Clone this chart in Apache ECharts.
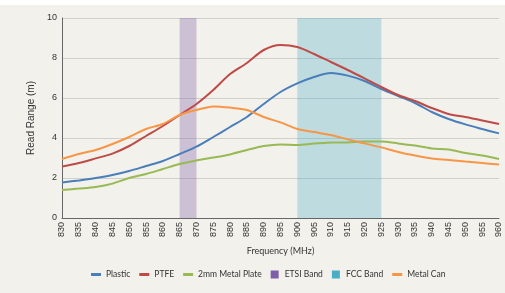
<!DOCTYPE html>
<html>
<head>
<meta charset="utf-8">
<script src="https://cdn.jsdelivr.net/npm/echarts@6/dist/echarts.min.js"></script>
<style>
  html, body { margin: 0; padding: 0; background: #fff; }
  #chart { width: 505px; height: 293px; }
</style>
</head>
<body>
<div id="chart"></div>
<script>
// frequencies (MHz)
var freqs = ['830','835','840','845','850','855','860','865','870','875','880','885','890',
  '895','900','905','910','915','920','925','930','935','940','945','950','955','960'];

// read range (m)
var plastic = [1.77,1.88,2.0,2.15,2.35,2.6,2.85,3.2,3.57,4.05,4.55,5.05,5.7,6.3,6.73,7.05,7.25,7.12,6.85,6.45,6.1,5.75,5.3,4.95,4.68,4.45,4.23];
var ptfe = [2.57,2.75,2.98,3.22,3.6,4.1,4.6,5.15,5.7,6.4,7.2,7.75,8.4,8.65,8.55,8.2,7.8,7.4,6.98,6.55,6.15,5.85,5.5,5.2,5.05,4.88,4.7];
var metalPlate = [1.4,1.47,1.55,1.72,2.0,2.2,2.45,2.7,2.88,3.02,3.18,3.4,3.6,3.68,3.65,3.72,3.77,3.78,3.82,3.82,3.73,3.62,3.48,3.42,3.25,3.12,2.95];
var metalCan = [2.95,3.2,3.4,3.7,4.05,4.45,4.7,5.15,5.4,5.58,5.52,5.4,5.05,4.78,4.45,4.3,4.15,3.93,3.73,3.53,3.3,3.12,2.97,2.9,2.82,2.75,2.67];

var etsiBand = ['865', '870'];
var fccBand = ['900', '925'];

var lineIcon = 'path://M0,0h10v3h-10z';
var boxIcon = 'path://M0,0h8v8h-8z';
var font = 'Lato';

var chart = echarts.init(document.getElementById('chart'));

function lineSeries(name, data, color) {
  return {
    name: name, type: 'line', data: data, smooth: 0.3,
    symbol: 'none', z: 3,
    lineStyle: { width: 2, color: color },
    itemStyle: { color: color }
  };
}

function bandSeries(name, range, color, fill) {
  return {
    name: name, type: 'line', data: [], symbol: 'none', z: 1,
    itemStyle: { color: color },
    lineStyle: { width: 0 },
    markArea: {
      silent: true,
      itemStyle: { color: fill },
      data: [[{ xAxis: range[0] }, { xAxis: range[1] }]]
    }
  };
}

chart.setOption({
  backgroundColor: '#f2f1eb',
  animation: false,
  graphic: [{ type: 'rect', shape: { x: 0, y: 0, width: 505, height: 5 }, style: { fill: '#fff' } }],
  grid: { left: 62, right: 6, top: 18, bottom: 75 },
  legend: {
    left: 86, top: 265, width: 419,
    itemWidth: 10, itemHeight: 8, itemGap: 9,
    textStyle: { fontFamily: font, fontSize: 8.5, color: '#333' },
    data: [
      { name: 'Plastic', icon: lineIcon },
      { name: 'PTFE', icon: lineIcon },
      { name: '2mm Metal Plate', icon: lineIcon },
      { name: 'ETSI Band', icon: boxIcon },
      { name: 'FCC Band', icon: boxIcon },
      { name: 'Metal Can', icon: lineIcon }
    ]
  },
  xAxis: {
    type: 'category', data: freqs, boundaryGap: false,
    name: 'Frequency (MHz)', nameLocation: 'middle', nameGap: 29,
    nameTextStyle: { fontFamily: font, fontSize: 9, color: '#333' },
    axisLine: { lineStyle: { color: '#666', width: 1 } },
    axisTick: { show: false },
    axisLabel: { rotate: 90, margin: 4, fontFamily: 'Liberation Sans', fontSize: 9, color: '#333', interval: 0 },
    splitLine: { show: false }
  },
  yAxis: {
    type: 'value', min: 0, max: 10, interval: 2,
    name: 'Read Range (m)', nameLocation: 'middle', nameGap: 22,
    nameTextStyle: { fontFamily: 'Liberation Sans', fontSize: 10, color: '#333' },
    axisLine: { show: true, lineStyle: { color: '#666', width: 1 } },
    axisTick: { show: false },
    axisLabel: { margin: 5, fontFamily: 'Liberation Sans', fontSize: 9, color: '#333' },
    splitLine: { lineStyle: { color: '#cfcfcb', width: 1 } }
  },
  series: [
    bandSeries('ETSI Band', etsiBand, '#7f5fa8', 'rgba(127,95,168,0.33)'),
    bandSeries('FCC Band', fccBand, '#4bacc6', 'rgba(75,172,198,0.31)'),
    lineSeries('Plastic', plastic, '#4a7ebb'),
    lineSeries('PTFE', ptfe, '#be4b48'),
    lineSeries('2mm Metal Plate', metalPlate, '#98b954'),
    lineSeries('Metal Can', metalCan, '#f79646')
  ]
});
</script>
</body>
</html>
